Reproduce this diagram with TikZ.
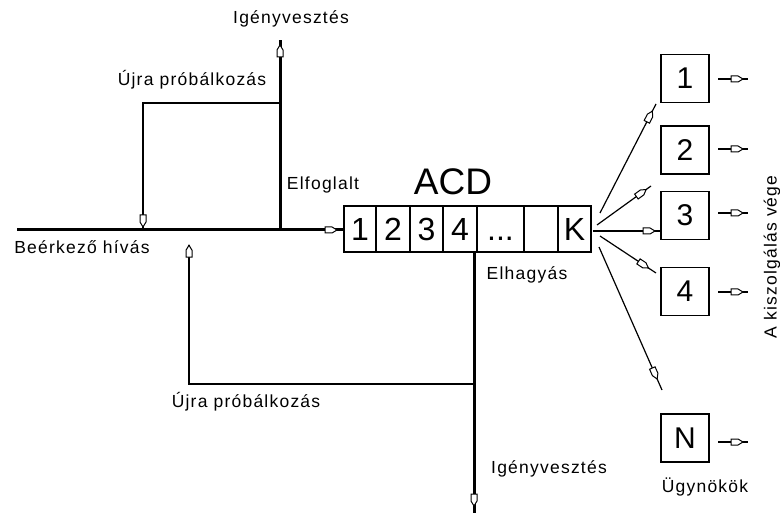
\documentclass[tikz,border=0pt]{standalone}
\usepackage{fontspec}
\setmainfont{Liberation Sans}
\newfontfamily\lblfont[LetterSpace=7]{Liberation Sans}
\usetikzlibrary{arrows.meta,decorations.markings}
\begin{document}
\begin{tikzpicture}[x=1pt,y=-1pt,
 thickln/.style={line width=3pt},
 thinln/.style={line width=1.2pt},
 lbl/.style={font=\lblfont\fontsize{17.5}{19}\selectfont, inner sep=0pt},
 cell/.style={draw, line width=1.2pt, minimum height=46pt, inner sep=0pt, font=\fontsize{32}{34}\selectfont},
 agent/.style={draw, line width=1.3pt, minimum width=48pt, minimum height=48pt, inner sep=0pt, font=\fontsize{30}{32}\selectfont},
 tipend/.style={decoration={markings, mark=at position #1 with {\draw[line width=1pt, fill=white, line join=miter] (0pt,0pt) -- (-5pt,3pt) -- (-12pt,3pt) -- (-12pt,-3pt) -- (-5pt,-3pt) -- cycle;}}, postaction=decorate},
]
\fill[white] (0,0) rectangle (780,513);
\useasboundingbox (0,0) rectangle (780,513);

% queue cells
\node[cell, minimum width=32pt] (q1) at (360,229) {1};
\node[cell, minimum width=34pt] (q2) at (393,229) {2};
\node[cell, minimum width=33pt] (q3) at (426.5,229) {3};
\node[cell, minimum width=34pt] (q4) at (460,229) {4};
\node[cell, minimum width=47pt] (q5) at (500.5,229) {\vphantom{1}...};
\node[cell, minimum width=34pt] (q6) at (541,229) {};
\node[cell, minimum width=33pt] (q7) at (574.5,229) {K};
\node[font=\fontsize{37}{40}\selectfont, inner sep=0pt] (acd) at (453,182) {ACD};

% agents
\node[agent] (a1) at (685,78.5) {1};
\node[agent] (a2) at (685,150) {2};
\node[agent] (a3) at (685,215.5) {3};
\node[agent] (a4) at (685,291.5) {4};
\node[agent] (aN) at (685,438) {N};

% labels
\node[lbl] (ltop) at (291,19) {Igényvesztés};
\node[lbl] (lretry1) at (192,80) {Újra próbálkozás};
\node[lbl] (lbusy) at (323,185) {Elfoglalt};
\node[lbl] (lin) at (82,247) {Beérkező hívás};
\node[lbl] (lleave) at (527,275) {Elhagyás};
\node[lbl] (lretry2) at (246,402) {Újra próbálkozás};
\node[lbl] (lbot) at (549,469) {Igényvesztés};
\node[lbl] (lagents) at (705,487) {Ügynökök};
\node[lbl, rotate=90] (lend) at (772,257) {A kiszolgálás vége};

% coordinates
\coordinate (start) at (17,230);
\coordinate (j1) at (280,230);
\coordinate (topend) at (280,40);
\coordinate (j2) at (280,103);
\coordinate (c1) at (143,103);
\coordinate (m1) at (143,230);
\coordinate (qin) at (344,230);
\coordinate (qout) at (474,252);
\coordinate (botend) at (474,513);
\coordinate (j3) at (474,384);
\coordinate (c2) at (189,384);
\coordinate (m2) at (189,245);

% main flow
\draw[thickln, tipend=-7pt] (start) -- (qin);
\draw[thickln, tipend=-5pt] (j1) -- (topend);
\draw[thinln, tipend=-3pt] (j2) -- (c1) -- (m1);
\draw[thickln, tipend=-7pt] (qout) -- (botend);
\draw[thinln, tipend=-0.2pt] (j3) -- (c2) -- (m2);

% fan to agents
\coordinate (k1) at (600,213); \coordinate (e1) at (656,104);
\coordinate (k2) at (597,225); \coordinate (e2) at (651,186);
\coordinate (k3) at (593,231); \coordinate (e3) at (661,231);
\coordinate (k4) at (600,236); \coordinate (e4) at (656,273);
\coordinate (k5) at (599,247); \coordinate (e5) at (662,390);
\draw[thinln, tipend=-8pt] (k1) -- (e1);
\draw[thinln, tipend=-6pt] (k2) -- (e2);
\draw[thinln, tipend=-6pt] (k3) -- (e3);
\draw[thinln, tipend=-9pt] (k4) -- (e4);
\draw[thinln, tipend=-12pt] (k5) -- (e5);

% outputs
\foreach \n/\y in {a1/79, a2/149, a3/213, a4/292, aN/442}{
  \coordinate (o\n) at (718,\y);
  \coordinate (p\n) at (748,\y);
  \draw[thinln, tipend=-5pt] (o\n) -- (p\n);
}
\end{tikzpicture}
\end{document}
